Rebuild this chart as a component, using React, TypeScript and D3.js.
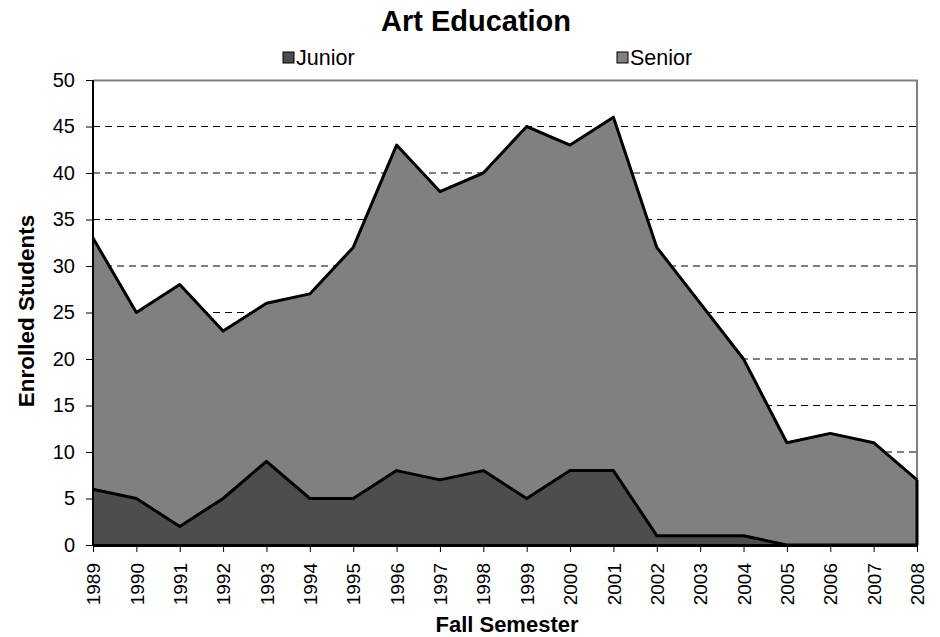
import { useEffect, useRef } from "react";
import * as d3 from "d3";

const years = [
  "1989", "1990", "1991", "1992", "1993", "1994", "1995", "1996", "1997", "1998",
  "1999", "2000", "2001", "2002", "2003", "2004", "2005", "2006", "2007", "2008",
];
const junior = [6, 5, 2, 5, 9, 5, 5, 8, 7, 8, 5, 8, 8, 1, 1, 1, 0, 0, 0, 0];
const senior = [27, 20, 26, 18, 17, 22, 27, 35, 31, 32, 40, 35, 38, 31, 25, 19, 11, 12, 11, 7];
const yTicks = [0, 5, 10, 15, 20, 25, 30, 35, 40, 45, 50];

const WIDTH = 940;
const HEIGHT = 637;
const MARGIN = { top: 80, right: 23, bottom: 92, left: 93 };
const FONT = "Liberation Sans, Arial, sans-serif";

export default function App() {
  const svgRef = useRef<SVGSVGElement>(null);

  useEffect(() => {
    if (!svgRef.current) return;
    const svg = d3.select(svgRef.current);
    svg.selectAll("*").remove();

    const innerWidth = WIDTH - MARGIN.left - MARGIN.right;
    const innerHeight = HEIGHT - MARGIN.top - MARGIN.bottom;

    const g = svg
      .append("g")
      .attr("transform", `translate(${MARGIN.left},${MARGIN.top})`);

    const x = d3.scalePoint<string>().domain(years).range([0, innerWidth]);
    const y = d3.scaleLinear().domain([0, 50]).range([innerHeight, 0]);

    const rows = years.map((yr, i) => ({ year: yr, junior: junior[i], senior: senior[i] }));
    const stack = d3.stack<(typeof rows)[number]>().keys(["junior", "senior"]);
    const layers = stack(rows);
    const colors = ["#4d4d4d", "#808080"];

    // Grid lines (dashed)
    g.append("g")
      .selectAll("line")
      .data(yTicks.filter((t) => t > 0 && t < 50))
      .join("line")
      .attr("x1", 0)
      .attr("x2", innerWidth)
      .attr("y1", (d) => y(d))
      .attr("y2", (d) => y(d))
      .attr("stroke", "#000")
      .attr("stroke-width", 1)
      .attr("stroke-dasharray", "7,5");

    // Plot frame: top & right grey
    g.append("path")
      .attr("d", `M0,0.5H${innerWidth}V${innerHeight}`)
      .attr("fill", "none")
      .attr("stroke", "#808080")
      .attr("stroke-width", 2);

    const area = d3
      .area<d3.SeriesPoint<(typeof rows)[number]>>()
      .x((d) => x(d.data.year)!)
      .y0((d) => y(d[0]))
      .y1((d) => y(d[1]));

    const topLine = d3
      .line<d3.SeriesPoint<(typeof rows)[number]>>()
      .x((d) => x(d.data.year)!)
      .y((d) => y(d[1]));

    layers.forEach((layer, i) => {
      g.append("path")
        .datum(layer)
        .attr("d", area)
        .attr("fill", colors[i])
        .attr("stroke", "none");
    });
    layers.forEach((layer) => {
      g.append("path")
        .datum(layer)
        .attr("d", topLine)
        .attr("fill", "none")
        .attr("stroke", "#000")
        .attr("stroke-width", 3)
        .attr("stroke-linejoin", "round");
    });
    // right edge of the area
    g.append("line")
      .attr("x1", innerWidth)
      .attr("x2", innerWidth)
      .attr("y1", y(0))
      .attr("y2", y(junior[19] + senior[19]))
      .attr("stroke", "#000")
      .attr("stroke-width", 3);

    // Y axis
    g.append("g")
      .call(d3.axisLeft(y).tickValues(yTicks).tickSize(7).tickPadding(11))
      .call((sel) => sel.select(".domain").attr("stroke", "#000").attr("stroke-width", 2).attr("d", `M0,0V${innerHeight}`))
      .call((sel) => sel.selectAll(".tick line").attr("stroke", "#000"))
      .call((sel) =>
        sel
          .selectAll(".tick text")
          .attr("fill", "#000")
          .attr("font-size", "20px")
          .attr("font-family", FONT)
      );

    // X axis
    g.append("g")
      .attr("transform", `translate(0,${innerHeight})`)
      .call(d3.axisBottom(x).tickSize(7).tickSizeOuter(0))
      .call((sel) => sel.select(".domain").attr("stroke", "#000").attr("stroke-width", 3))
      .call((sel) => sel.selectAll(".tick line").attr("stroke", "#000"))
      .call((sel) =>
        sel
          .selectAll(".tick text")
          .attr("fill", "#000")
          .attr("font-size", "19px")
          .attr("font-family", FONT)
          .attr("text-anchor", "end")
          .attr("dy", "0.35em")
          .attr("transform", "rotate(-90)")
          .attr("x", -18)
          .attr("y", 0)
      );

    // Title
    svg
      .append("text")
      .attr("x", 476)
      .attr("y", 31)
      .attr("text-anchor", "middle")
      .attr("font-family", FONT)
      .attr("font-weight", "bold")
      .attr("font-size", "29px")
      .text("Art Education");

    // Axis titles
    svg
      .append("text")
      .attr("transform", `translate(34,${311}) rotate(-90)`)
      .attr("text-anchor", "middle")
      .attr("font-family", FONT)
      .attr("font-weight", "bold")
      .attr("font-size", "22.5px")
      .text("Enrolled Students");

    svg
      .append("text")
      .attr("x", 507)
      .attr("y", 632)
      .attr("text-anchor", "middle")
      .attr("font-family", FONT)
      .attr("font-weight", "bold")
      .attr("font-size", "22px")
      .text("Fall Semester");

    // Legend
    const legendItems = [
      { name: "Junior", color: colors[0], x: 283 },
      { name: "Senior", color: colors[1], x: 617 },
    ];
    legendItems.forEach((it) => {
      svg
        .append("rect")
        .attr("x", it.x)
        .attr("y", 52)
        .attr("width", 11)
        .attr("height", 11)
        .attr("fill", it.color)
        .attr("stroke", "#000")
        .attr("stroke-width", 1);
      svg
        .append("text")
        .attr("x", it.x + 13)
        .attr("y", 65)
        .attr("font-family", FONT)
        .attr("font-size", "21.5px")
        .text(it.name);
    });
  }, []);

  return (
    <svg
      ref={svgRef}
      width={WIDTH}
      height={HEIGHT}
      style={{ position: "absolute", left: 0, top: 0, background: "#fff" }}
    />
  );
}
